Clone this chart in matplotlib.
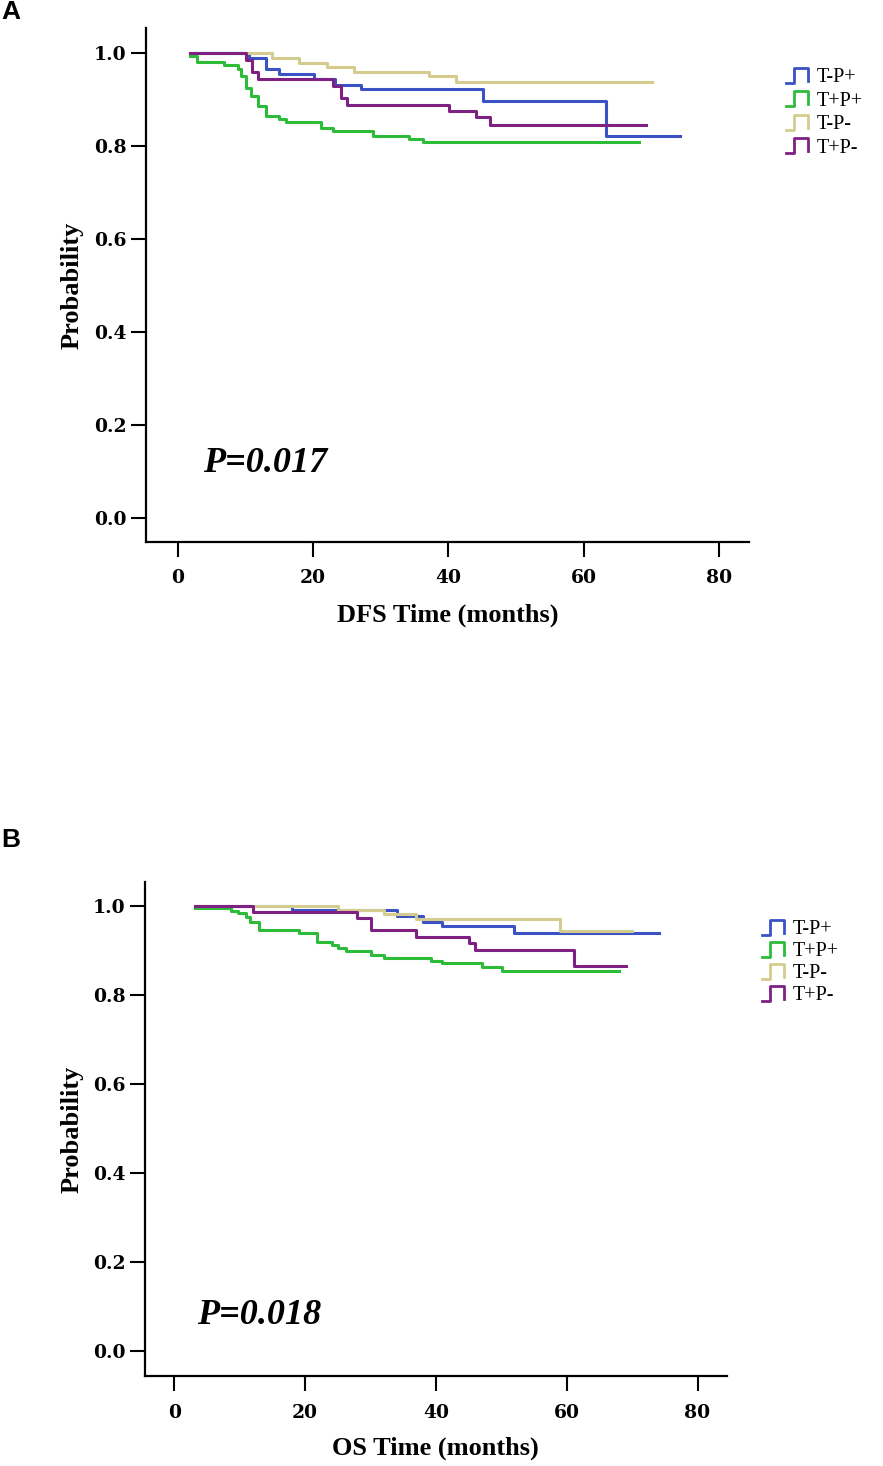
import numpy as np
import matplotlib
matplotlib.use("Agg")
from matplotlib import pyplot as plt
from matplotlib.legend_handler import HandlerBase
from matplotlib.lines import Line2D

# Kaplan-Meier step data (time in months, survival)
groups = ['T-P+', 'T+P+', 'T-P-', 'T+P-']
colors = ['#3a52c4', '#2dbb3a', '#d3cc8e', '#7e2183']

dfs_t_tp_pos = [1.8, 10.5, 13.0, 15.0, 20.1, 23.3, 27.1, 45.1, 63.2, 74.2]
dfs_s_tp_pos = [1.0, 0.989, 0.964, 0.954, 0.943, 0.931, 0.921, 0.897, 0.821, 0.821]
dfs_t_tpp = [1.8, 2.9, 6.9, 8.9, 9.4, 10.1, 10.8, 11.8, 13.0, 15.0, 16.0, 21.1,
             23.0, 28.9, 34.2, 36.2, 68.1]
dfs_s_tpp = [0.993, 0.980, 0.974, 0.964, 0.949, 0.924, 0.906, 0.885, 0.863, 0.857,
             0.851, 0.838, 0.831, 0.821, 0.815, 0.808, 0.808]
dfs_t_tn = [1.8, 14.0, 17.9, 22.1, 26.0, 37.1, 41.1, 70.0]
dfs_s_tn = [1.0, 0.989, 0.978, 0.969, 0.958, 0.949, 0.937, 0.937]
dfs_t_tpn = [1.8, 10.1, 11.0, 11.8, 23.0, 24.1, 25.0, 40.1, 44.1, 46.2, 69.2]
dfs_s_tpn = [1.0, 0.985, 0.958, 0.943, 0.928, 0.903, 0.888, 0.875, 0.861, 0.845, 0.845]

os_t_tp_pos = [3.2, 18.0, 34.0, 38.1, 40.9, 52.0, 74.1]
os_s_tp_pos = [1.0, 0.991, 0.978, 0.965, 0.955, 0.939, 0.939]
os_t_tpp = [3.2, 8.6, 9.8, 10.9, 11.6, 12.9, 19.0, 21.8, 24.1, 25.1, 26.2, 30.0,
            32.0, 39.2, 41.0, 47.1, 50.1, 68.0]
os_s_tpp = [0.995, 0.989, 0.984, 0.976, 0.965, 0.946, 0.940, 0.920, 0.913, 0.905,
            0.898, 0.890, 0.884, 0.877, 0.871, 0.862, 0.855, 0.855]
os_t_tn = [3.2, 25.1, 32.0, 37.0, 59.0, 70.0]
os_s_tn = [1.0, 0.991, 0.981, 0.970, 0.944, 0.944]
os_t_tpn = [3.2, 12.1, 27.9, 30.0, 37.0, 45.0, 46.0, 61.1, 69.0]
os_s_tpn = [1.0, 0.987, 0.972, 0.945, 0.931, 0.916, 0.901, 0.866, 0.866]

xticks = [0, 20, 40, 60, 80]
yticks = [0.0, 0.2, 0.4, 0.6, 0.8, 1.0]


class PulseHandler(HandlerBase):
    # little square-pulse legend key like the SPSS output
    def create_artists(self, legend, orig_handle, xdescent, ydescent,
                       width, height, fontsize, trans):
        xs = np.array([0, 0.38, 0.38, 1, 1]) * width - xdescent
        ys = np.array([0, 0, 1, 1, 0.12]) * height - ydescent
        ln = Line2D(xs, ys, color=orig_handle.get_color(), lw=2.0)
        ln.set_transform(trans)
        return [ln]


fig = plt.figure(figsize=(8.83, 14.66), dpi=100)
W, H = 883, 1466

panels = [
    dict(rect=(145.7, 28, 749, 541.7), xlim=(-4.73, 84.4), ylim=(-0.052, 1.053),
         data=[(dfs_t_tp_pos, dfs_s_tp_pos), (dfs_t_tpp, dfs_s_tpp),
               (dfs_t_tn, dfs_s_tn), (dfs_t_tpn, dfs_s_tpn)],
         xlabel='DFS Time (months)', xlab_top=604, ptext='P=0.017', ppos=(3.7, 0.097),
         letter='A', letter_y=0, leg=(786, 68), lsp=0.2),
    dict(rect=(145, 881.7, 726.7, 1376), xlim=(-4.48, 84.46), ylim=(-0.056, 1.0546),
         data=[(os_t_tp_pos, os_s_tp_pos), (os_t_tpp, os_s_tpp),
               (os_t_tn, os_s_tn), (os_t_tpn, os_s_tpn)],
         xlabel='OS Time (months)', xlab_top=1437, ptext='P=0.018', ppos=(3.4, 0.06),
         letter='B', letter_y=828, leg=(762, 920), lsp=0.13),
]

for p in panels:
    l, t, r, b = p['rect']
    ax = fig.add_axes([l / W, 1 - b / H, (r - l) / W, (b - t) / H])
    handles = []
    for (tt, ss), c in zip(p['data'], colors):
        h, = ax.step(tt, ss, where='post', color=c, lw=2.2)
        handles.append(h)
    ax.set_xlim(*p['xlim'])
    ax.set_ylim(*p['ylim'])
    ax.spines['top'].set_visible(False)
    ax.spines['right'].set_visible(False)
    for s in ['left', 'bottom']:
        ax.spines[s].set_linewidth(1.6)
    ax.set_xticks(xticks)
    ax.set_yticks(yticks)
    ax.set_yticklabels(['%.1f' % v for v in yticks])
    ax.tick_params(axis='both', length=11, width=1.5, labelsize=13.5)
    ax.tick_params(axis='x', pad=9)
    ax.tick_params(axis='y', pad=3)
    for lab in ax.get_xticklabels() + ax.get_yticklabels():
        lab.set_family('DejaVu Serif')
        lab.set_fontweight('bold')
    ax.set_xlabel(p['xlabel'], family='Liberation Serif', fontweight='bold', fontsize=19)
    ax.set_ylabel('Probability', family='Liberation Serif', fontweight='bold', fontsize=19)
    ax.xaxis.set_label_coords(0.5, (b - p['xlab_top']) / (b - t))
    ax.yaxis.set_label_coords((84 - l) / (r - l), 0.5)
    ax.text(p['ppos'][0], p['ppos'][1], p['ptext'], family='Liberation Serif',
            fontweight='bold', style='italic', fontsize=26, va='baseline')
    ax.legend(handles, groups, loc='upper left',
              bbox_to_anchor=(p['leg'][0] / W, 1 - p['leg'][1] / H),
              bbox_transform=fig.transFigure, frameon=False,
              handler_map={Line2D: PulseHandler()},
              prop={'family': 'Liberation Serif', 'size': 14.5},
              handlelength=1.1, handleheight=0.75, handletextpad=0.4,
              labelspacing=p['lsp'], borderpad=0, borderaxespad=0)
    fig.text(0.001, 1 - p['letter_y'] / H, p['letter'], family='Liberation Sans',
             fontweight='bold', fontsize=19, ha='left', va='top')

fig.savefig('out.png', dpi=100)
